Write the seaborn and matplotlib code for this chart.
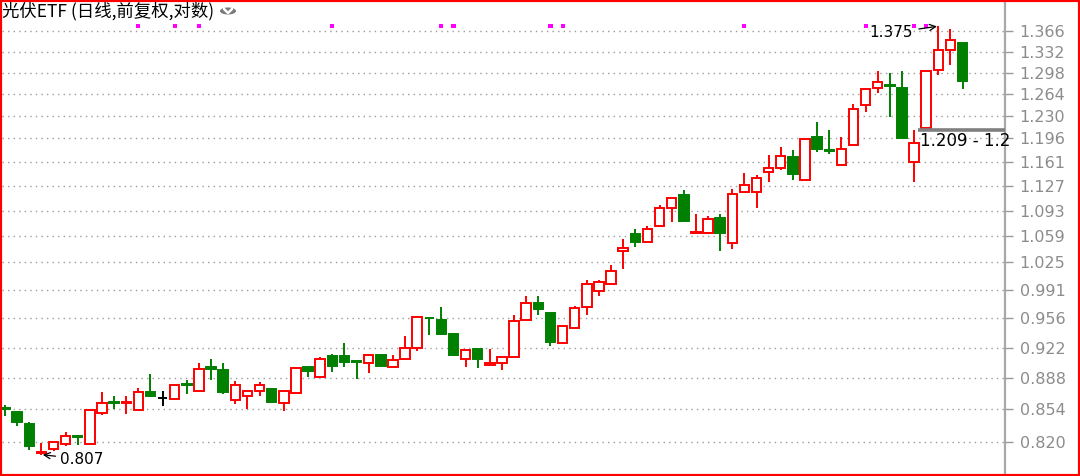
import numpy as np
import pandas as pd
import matplotlib
matplotlib.use("Agg")
import matplotlib.pyplot as plt
import seaborn as sns
from matplotlib.patches import Rectangle, Circle
from matplotlib.lines import Line2D
from matplotlib.ticker import FixedLocator, FixedFormatter, NullLocator
import matplotlib.transforms as mtransforms

# ---------------- data ----------------
title = "光伏ETF (日线,前复权,对数)"

opens = [0.855, 0.851, 0.838, 0.809, 0.813, 0.818, 0.826, 0.818, 0.850, 0.862,
         0.861, 0.853, 0.872, 0.866, 0.865, 0.881, 0.874, 0.900, 0.897, 0.864,
         0.868, 0.873, 0.876, 0.861, 0.871, 0.900, 0.889, 0.912, 0.912, 0.907,
         0.904, 0.914, 0.900, 0.909, 0.921, 0.957, 0.954, 0.938, 0.909, 0.920,
         0.902, 0.904, 0.911, 0.954, 0.975, 0.963, 0.927, 0.945, 0.970, 0.989,
         0.998, 1.039, 1.062, 1.051, 1.073, 1.097, 1.115, 1.063, 1.063, 1.083,
         1.050, 1.119, 1.119, 1.147, 1.152, 1.168, 1.135, 1.198, 1.179, 1.157,
         1.186, 1.247, 1.274, 1.278, 1.274, 1.162, 1.212, 1.302, 1.335, 1.347]
highs = [0.858, 0.852, 0.840, 0.819, 0.821, 0.830, 0.826, 0.853, 0.872, 0.868,
         0.868, 0.877, 0.892, 0.874, 0.880, 0.886, 0.904, 0.909, 0.904, 0.884,
         0.874, 0.883, 0.877, 0.875, 0.900, 0.900, 0.911, 0.915, 0.927, 0.907,
         0.914, 0.914, 0.913, 0.935, 0.958, 0.957, 0.970, 0.938, 0.919, 0.920,
         0.920, 0.911, 0.960, 0.983, 0.983, 0.963, 0.947, 0.971, 1.003, 1.003,
         1.022, 1.055, 1.069, 1.072, 1.101, 1.111, 1.122, 1.089, 1.086, 1.089,
         1.123, 1.145, 1.142, 1.172, 1.183, 1.179, 1.196, 1.221, 1.209, 1.198,
         1.248, 1.272, 1.300, 1.297, 1.300, 1.209, 1.300, 1.375, 1.370, 1.347]
lows = [0.847, 0.836, 0.812, 0.807, 0.811, 0.816, 0.817, 0.818, 0.848, 0.854,
        0.849, 0.853, 0.868, 0.857, 0.865, 0.870, 0.874, 0.886, 0.870, 0.859,
        0.854, 0.868, 0.861, 0.852, 0.870, 0.889, 0.889, 0.894, 0.900, 0.887,
        0.893, 0.901, 0.900, 0.909, 0.918, 0.937, 0.936, 0.912, 0.900, 0.899,
        0.902, 0.897, 0.911, 0.954, 0.960, 0.924, 0.927, 0.945, 0.960, 0.983,
        0.998, 1.017, 1.045, 1.051, 1.073, 1.078, 1.079, 1.063, 1.062, 1.039,
        1.042, 1.119, 1.097, 1.133, 1.150, 1.135, 1.135, 1.176, 1.173, 1.157,
        1.186, 1.236, 1.266, 1.228, 1.197, 1.133, 1.209, 1.294, 1.310, 1.272]
closes = [0.854, 0.840, 0.816, 0.810, 0.820, 0.826, 0.825, 0.853, 0.861, 0.861,
          0.862, 0.872, 0.868, 0.866, 0.880, 0.880, 0.898, 0.898, 0.872, 0.880,
          0.874, 0.880, 0.862, 0.873, 0.899, 0.895, 0.909, 0.901, 0.905, 0.906,
          0.914, 0.901, 0.908, 0.922, 0.958, 0.956, 0.938, 0.913, 0.919, 0.909,
          0.904, 0.911, 0.953, 0.975, 0.967, 0.928, 0.947, 0.968, 0.998, 1.000,
          1.0145, 1.044, 1.051, 1.069, 1.097, 1.111, 1.079, 1.065, 1.082, 1.063,
          1.116, 1.128, 1.138, 1.152, 1.170, 1.144, 1.195, 1.180, 1.177, 1.180,
          1.241, 1.272, 1.283, 1.276, 1.197, 1.189, 1.300, 1.335, 1.352, 1.285]

signal_days = [11, 14, 16, 27, 36, 37, 45, 46, 61, 71, 75, 76]

ytick_values = [0.820, 0.854, 0.888, 0.922, 0.956, 0.991, 1.025, 1.059, 1.093,
                1.127, 1.161, 1.196, 1.230, 1.264, 1.298, 1.332, 1.366]
ytick_labels = ["0.820", "0.854", "0.888", "0.922", "0.956", "0.991", "1.025",
                "1.059", "1.093", "1.127", "1.161", "1.196", "1.230", "1.264",
                "1.298", "1.332", "1.366"]

low_label = "0.807"
high_label = "1.375"
range_low = 1.209
range_label = "1.209 - 1.2"

# ---------------- style ----------------
sns.set_theme(style="white")
plt.rcParams["font.family"] = ["Noto Sans CJK SC", "DejaVu Sans"]

RED = "#ff0000"
GREEN = "#008000"

df = pd.DataFrame({"open": opens, "high": highs, "low": lows, "close": closes})
df["day"] = np.arange(len(df))
colors = []
for o, c in zip(df["open"], df["close"]):
    if c > o:
        colors.append(RED)
    elif c < o:
        colors.append(GREEN)
    else:
        colors.append("black")
df["color"] = colors

W, H = 1080, 476
fig = plt.figure(figsize=(W / 100, H / 100), dpi=100)
ax = fig.add_axes([2 / W, 2 / H, (1005 - 2) / W, (474 - 2) / H])
ax.set_facecolor("white")

ax.set_yscale("log")
ax.set_ylim(0.7878, 1.417)
ax.set_xlim(-0.25, 82.5)

# gridlines
for v in ytick_values:
    ax.axhline(v, color="#9a9a9a", lw=1.0, ls=(0, (1, 3)), zorder=0)

# wicks
ax.vlines(df["day"], df["low"], df["high"], colors=df["color"], lw=1.4, zorder=2)

# bodies
bottoms = np.minimum(df["open"], df["close"])
heights = np.maximum(np.abs(df["close"] - df["open"]), 0.0002)
faces = ["white" if c == RED else c for c in df["color"]]
ax.bar(df["day"], heights, bottom=bottoms, width=0.78, color=faces,
       edgecolor=df["color"], linewidth=1.4, zorder=3)

# signal markers at top
trans = mtransforms.blended_transform_factory(ax.transData, ax.transAxes)
sns.scatterplot(x=signal_days, y=[0.949] * len(signal_days), ax=ax, marker="s",
                s=9, color="#ff00ff", edgecolor="none", transform=trans,
                zorder=4, legend=False)

# annotations
imin = int(np.argmin(lows))
imax = int(np.argmax(highs))
ax.annotate(low_label, xy=(imin, lows[imin]), xytext=(4.55, 0.8025),
            fontsize=11, color="black", ha="left", va="center",
            family="DejaVu Sans",
            arrowprops=dict(arrowstyle="->", color="black", lw=0.9,
                            shrinkA=1, shrinkB=1), zorder=5)
ax.annotate(high_label, xy=(imax, highs[imax]), xytext=(74.9, 1.3635),
            fontsize=11, color="black", ha="right", va="center",
            family="DejaVu Sans",
            arrowprops=dict(arrowstyle="->", color="black", lw=0.9,
                            shrinkA=2, shrinkB=1), zorder=5)
ax.hlines(range_low, 75.3, 82.5, color="#7f7f7f", lw=2.6, zorder=4)
ax.text(75.5, 1.192, range_label, fontsize=12, color="black", ha="left",
        va="center", family="DejaVu Sans", zorder=5)

# axes / ticks
ax.yaxis.tick_right()
ax.yaxis.set_major_locator(FixedLocator(ytick_values))
ax.yaxis.set_major_formatter(FixedFormatter(ytick_labels))
ax.yaxis.set_minor_locator(NullLocator())
ax.tick_params(axis="y", which="major", right=True, left=False, length=5.5,
               width=1.0, color="#9a9a9a", labelcolor="#8c8c8c",
               labelsize=11.5, pad=5)
for lab in ax.get_yticklabels():
    lab.set_family("DejaVu Sans")
ax.set_xticks([])
for s in ["left", "top", "bottom"]:
    ax.spines[s].set_visible(False)
ax.spines["right"].set_color("#a8a8a8")
ax.spines["right"].set_linewidth(1.6)
ax.grid(False)

# title & icon
fig.text(2 / W, 1 - 11 / H, title, fontsize=12.5, color="black", ha="left",
         va="center")
fig.patches.append(Circle((228 / W, 1 - 11 / H), 8 / W, transform=fig.transFigure,
                          facecolor="#7a7a7a", edgecolor="none"))
fig.lines.append(Line2D([224 / W, 228 / W, 232 / W],
                        [1 - 9 / H, 1 - 13 / H, 1 - 9 / H],
                        transform=fig.transFigure, color="white", lw=1.8))

# red frame
fig.patches.append(Rectangle((0, 0), 1, 1, transform=fig.transFigure,
                             fill=False, edgecolor=RED, lw=3))

fig.savefig("out.png", dpi=100)
